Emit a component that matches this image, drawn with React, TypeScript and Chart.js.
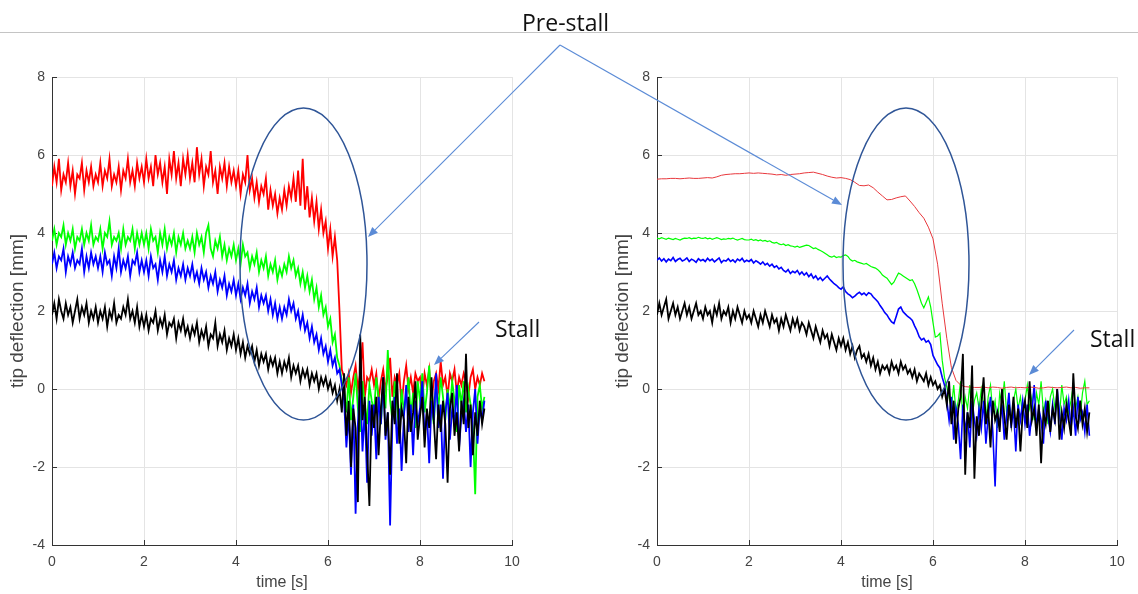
import { useEffect, useRef } from "react";
import { Chart, registerables } from "chart.js";

Chart.register(...registerables);

// ---------------- data ----------------
// sampling intervals of the recorded signals (seconds)
const FINE_STEP = 0.05;
const COARSE_STEP = 0.1;

const X_MIN = 0;
const X_MAX = 10;
const X_STEP = 2;
const Y_MIN = -4;
const Y_MAX = 8;
const Y_STEP = 2;

const X_TITLE = "time [s]";
const Y_TITLE = "tip deflection [mm]";

// Left panel (noisy recordings)
const leftRed = [
  5.2, 5.7, 5.3, 5.9, 5.1, 5.5, 5.3, 5.8, 5.2, 5.6, 5.0, 5.5, 5.4, 5.8, 5.1, 5.6, 5.3, 5.7, 5.2, 5.5,
  5.3, 5.8, 5.2, 5.6, 5.4, 5.9, 5.2, 5.5, 5.3, 5.7, 5.1, 5.6, 5.4, 5.9, 5.3, 5.6, 5.2, 5.8, 5.4, 5.7,
  5.3, 5.9, 5.4, 5.7, 5.2, 6.0, 5.5, 5.8, 5.3, 5.7, 5.0, 5.9, 5.5, 6.1, 5.4, 5.8, 5.2, 5.9, 5.5, 6.0,
  5.4, 5.8, 5.3, 6.2, 5.5, 5.9, 5.2, 5.7, 5.5, 6.1, 5.3, 5.6, 5.0, 5.7, 5.4, 5.8, 5.2, 5.7, 5.3, 5.6,
  5.2, 5.6, 5.0, 5.5, 5.3, 6.0, 5.1, 5.4, 4.9, 5.3, 4.8, 5.2, 5.0, 5.4, 4.6, 5.1, 4.7, 5.0, 4.5, 4.9,
  4.6, 5.1, 4.7, 5.2, 4.9, 5.4, 4.8, 5.6, 4.7, 5.9, 4.6, 5.2, 4.4, 4.9, 4.3, 4.8, 4.1, 4.6, 4.0, 4.3,
  3.6, 4.1, 3.4, 3.9, 3.3, 2.0, 0.5, 0.3, 0.1, 0.4, -0.1, 0.3, 0.6, 0.0, 0.4, 1.2, -0.2, 0.3, 0.2, 0.5,
  0.1, 0.4, -0.3, 0.2, 0.5, 0.0, 0.3, 0.8, -0.2, 0.3, 0.1, 0.4, -0.4, 0.2, 0.6, 0.0, 0.3, -0.1, 0.4, 0.2,
  0.3, -0.2, 0.4, 0.1, 0.5, -0.3, 0.2, 0.4, 0.0, 0.7, 0.1, 0.3, -0.2, 0.4, 0.2, 0.5, -0.1, 0.3, 0.1, 0.4,
  0.2, -0.2, 0.3, 0.5, 0.0, 0.3, 0.1, 0.4, 0.2,
];

const leftGreen = [
  3.8, 4.1, 3.7, 4.0, 3.9, 4.2, 3.7, 4.0, 3.8, 4.1, 3.6, 3.9, 3.8, 4.1, 3.7, 4.0, 3.8, 4.2, 3.7, 3.9,
  3.8, 4.1, 3.6, 4.0, 3.9, 4.3, 3.7, 3.9, 3.8, 4.0, 3.6, 4.1, 3.7, 3.9, 3.8, 4.1, 3.6, 4.0, 3.7, 4.0,
  3.7, 4.0, 3.6, 4.1, 3.8, 3.9, 3.5, 4.0, 3.7, 4.1, 3.6, 3.9, 3.7, 4.0, 3.5, 3.9, 3.7, 4.0, 3.6, 3.8,
  3.6, 3.9, 3.5, 4.0, 3.7, 3.9, 3.5, 4.0, 4.2, 3.6, 3.4, 3.8, 3.6, 3.9, 3.4, 3.7, 3.3, 3.6, 3.4, 3.7,
  3.3, 3.6, 3.2, 3.7, 3.4, 3.5, 3.1, 3.4, 3.2, 3.5, 3.0, 3.3, 3.1, 3.4, 2.9, 3.2, 3.0, 3.3, 2.8, 3.1,
  2.9, 3.2, 3.0, 3.4, 3.1, 3.3, 2.9, 3.1, 2.7, 3.0, 2.6, 2.9, 2.5, 2.8, 2.3, 2.6, 2.1, 2.4, 1.9, 2.1,
  1.6, 1.8, 1.2, 1.4, 0.8, 0.6, 0.2, -0.1, -0.6, 0.3, -0.8, -0.2, 0.4, -0.5, -1.1, 0.2, -0.4, -0.9, 0.1, -0.3,
  -0.6, 0.3, -0.2, -0.9, 0.1, -0.5, 1.0, -0.3, -0.8, 0.2, -0.4, -1.2, 0.0, -0.6, -0.2, 0.3, -0.7, -0.1, -1.0, 0.2,
  -0.3, 0.4, -0.6, -0.1, 0.6, -0.4, -0.9, 0.1, -0.5, 0.3, -0.2, -0.8, 0.0, -0.5, 0.2, -0.3, -1.1, 0.1, -0.4, 0.2,
  -0.6, 0.0, -0.4, -1.0, -2.7, -0.2, 0.1, -0.5, -0.2,
];

const leftBlue = [
  3.2, 3.5, 3.1, 3.4, 3.3, 3.6, 3.0, 3.4, 3.2, 3.5, 3.1, 3.3, 3.2, 3.6, 3.0, 3.4, 3.1, 3.5, 3.2, 3.4,
  3.1, 3.4, 3.0, 3.5, 3.2, 3.3, 2.9, 3.4, 3.1, 3.6, 3.0, 3.3, 3.1, 3.4, 2.9, 3.3, 3.2, 3.5, 3.0, 3.3,
  3.0, 3.3, 2.9, 3.4, 3.1, 3.2, 2.8, 3.3, 3.0, 3.4, 2.9, 3.2, 3.0, 3.3, 2.8, 3.1, 2.9, 3.2, 2.8, 3.1,
  2.9, 3.2, 2.8, 3.0, 2.7, 3.1, 2.8, 3.0, 2.6, 2.9, 2.7, 3.0, 2.5, 2.8, 2.6, 2.9, 2.4, 2.7, 2.5, 2.8,
  2.4, 2.7, 2.3, 2.6, 2.4, 2.7, 2.2, 2.5, 2.3, 2.6, 2.1, 2.4, 2.2, 2.4, 2.0, 2.3, 1.9, 2.2, 1.8, 2.1,
  1.8, 2.1, 1.9, 2.3, 2.0, 2.2, 1.8, 2.0, 1.6, 1.9, 1.5, 1.7, 1.3, 1.6, 1.2, 1.4, 1.0, 1.3, 0.9, 1.1,
  0.7, 1.0, 0.6, 0.8, 0.4, 0.5, 0.1, -0.3, -1.5, -0.6, -2.2, -0.4, -3.2, -0.9, 0.2, -1.6, -0.5, -2.4, -0.3, -1.2,
  -0.4, -1.8, -0.2, -0.9, 0.3, -1.3, -0.6, -3.5, -0.8, -0.2, -1.4, -0.5, -2.1, -0.7, 0.1, -1.1, -0.4, -1.7, -0.3, -0.9,
  -0.5, 0.2, -1.2, -0.6, -1.9, -0.3, -0.8, 0.4, -1.0, -0.4, -2.3, -0.6, -0.1, -1.3, -0.5, -0.9, 0.1, -1.5, -0.7, -0.3,
  -1.1, -0.4, -2.0, -0.6, 0.0, -1.4, -0.5, -0.8, -0.3,
];

const leftBlack = [
  1.9, 2.2, 1.8, 2.3, 2.0, 1.8, 2.2, 1.9, 2.1, 1.7, 2.0, 2.3, 1.8, 2.1, 1.9, 2.2, 1.7, 2.0, 1.8, 2.1,
  1.7, 2.0, 1.8, 2.1, 1.6, 2.0, 1.8, 2.2, 1.7, 1.9, 1.8, 2.1, 1.9, 2.3, 1.8, 2.0, 1.7, 2.1, 1.6, 1.9,
  1.6, 1.9, 1.5, 1.8, 1.7, 2.0, 1.5, 1.8, 1.6, 1.9, 1.4, 1.7, 1.6, 1.8, 1.3, 1.7, 1.5, 1.8, 1.4, 1.6,
  1.3, 1.6, 1.4, 1.7, 1.2, 1.5, 1.3, 1.6, 1.1, 1.4, 1.3, 1.7, 1.1, 1.4, 1.2, 1.5, 1.0, 1.3, 1.1, 1.4,
  1.0, 1.3, 0.9, 1.2, 0.8, 1.1, 0.9, 1.1, 0.7, 1.0, 0.6, 0.9, 0.7, 0.9, 0.5, 0.8, 0.6, 0.8, 0.4, 0.7,
  0.4, 0.7, 0.5, 0.8, 0.3, 0.6, 0.4, 0.6, 0.2, 0.5, 0.3, 0.5, 0.1, 0.4, 0.2, 0.4, 0.0, 0.3, 0.1, 0.3,
  0.0, 0.2, -0.1, 0.1, -0.3, 0.0, -0.6, 0.4, -1.2, -0.3, -2.0, -0.5, -1.0, -2.9, 1.4, -0.8, -0.2, -1.6, -3.0, -0.4,
  -1.0, -0.2, -1.7, -0.5, 0.3, -1.2, -0.6, -2.2, -0.3, -0.9, 0.4, -1.4, -0.5, -0.8, -1.9, -0.2, -1.1, -0.6, 0.2, -1.3,
  -0.7, -0.2, -1.5, -0.5, -1.0, 0.3, -0.8, -1.8, -0.4, -1.1, -0.3, -0.9, -2.4, -0.5, -0.1, -1.2, -0.6, -1.6, -0.3, -0.9,
  0.9, -1.0, -0.4, -1.7, -0.6, -1.2, -0.3, -0.9, -0.5,
];

// Right panel
const rightRed = [
  5.38, 5.39, 5.39, 5.40, 5.40, 5.39, 5.40, 5.41, 5.40, 5.40,
  5.41, 5.42, 5.41, 5.44, 5.48, 5.50, 5.51, 5.52, 5.52, 5.53,
  5.54, 5.53, 5.54, 5.53, 5.52, 5.51, 5.49, 5.50, 5.48, 5.50,
  5.51, 5.52, 5.54, 5.55, 5.56, 5.53, 5.50, 5.46, 5.43, 5.41,
  5.42, 5.40, 5.37, 5.30, 5.22, 5.21, 5.23, 5.16, 5.05, 4.95,
  4.85, 4.86, 4.90, 4.93, 4.95, 4.82, 4.68, 4.52, 4.38, 4.15,
  3.85, 3.20, 2.20, 1.30, 0.55, 0.22, 0.10, 0.06, 0.05, 0.04,
  0.04, 0.05, 0.03, 0.05, 0.04, 0.02, 0.04, 0.05, 0.03, 0.04,
  0.03, 0.05, 0.04, 0.02, 0.03, 0.05, 0.04, 0.03, 0.04, 0.05,
  0.03, 0.04, 0.02, 0.03, 0.03,
];

const rightGreen = [
  3.87, 3.85, 3.88, 3.86, 3.84, 3.87, 3.85, 3.83, 3.86, 3.84, 3.82, 3.85, 3.87, 3.86, 3.88, 3.85, 3.87, 3.86, 3.89, 3.87,
  3.86, 3.88, 3.85, 3.87, 3.84, 3.86, 3.88, 3.86, 3.83, 3.85, 3.84, 3.86, 3.85, 3.87, 3.84, 3.82, 3.84, 3.86, 3.83, 3.82,
  3.82, 3.84, 3.81, 3.83, 3.80, 3.82, 3.79, 3.81, 3.78, 3.80, 3.76, 3.74, 3.76, 3.72, 3.70, 3.72, 3.68, 3.70, 3.67, 3.66,
  3.64, 3.66, 3.63, 3.65, 3.67, 3.69, 3.68, 3.64, 3.60, 3.62, 3.58, 3.55, 3.52, 3.48, 3.44, 3.40, 3.38, 3.41, 3.37, 3.39,
  3.38, 3.42, 3.44, 3.40, 3.32, 3.28, 3.30, 3.26, 3.24, 3.22, 3.20, 3.22, 3.18, 3.14, 3.12, 3.10, 3.06, 3.00, 2.92, 2.88,
  2.84, 2.76, 2.68, 2.74, 2.86, 2.97, 2.94, 2.90, 2.86, 2.82, 2.78, 2.80, 2.70, 2.55, 2.38, 2.20, 2.08, 2.22, 2.36, 2.10,
  1.70, 1.33, 1.36, 1.43, 0.74, 0.30, 0.05, -0.2, -0.5, 0.1, -0.6, -0.3, 0.2, -0.8, -0.2, -0.5, 0.1, -0.7, -0.3, -0.1,
  -0.5, 0.0, -0.4, -0.8, -0.2, 0.1, -0.6, -0.3, -1.0, -0.1, -0.4, 0.2, -0.6, -0.2, -0.9, -0.3, 0.0, -0.5, -0.2, -0.7,
  -0.3, 0.1, -0.5, -0.2, -0.8, -0.1, -0.4, 0.2, -0.6, -0.3, -0.9, -0.2, 0.0, -0.5, -0.3, -0.7, 0.1, -0.4, -0.2, -0.6,
  -0.3, 0.1, -0.5, -0.2, -0.7, -0.1, 0.2, -0.4, -0.3,
];

const rightBlue = [
  3.30, 3.36, 3.28, 3.34, 3.26, 3.33, 3.29, 3.37, 3.27, 3.32, 3.35, 3.28, 3.31, 3.36, 3.27, 3.33, 3.30, 3.25, 3.34, 3.29,
  3.32, 3.27, 3.35, 3.29, 3.33, 3.26, 3.31, 3.36, 3.24, 3.30, 3.28, 3.34, 3.27, 3.31, 3.25, 3.33, 3.29, 3.35, 3.26, 3.30,
  3.27, 3.32, 3.23, 3.29, 3.25, 3.20, 3.26, 3.18, 3.22, 3.15, 3.20, 3.12, 3.16, 3.08, 3.12, 3.04, 3.00, 3.06, 2.96, 3.02,
  2.98, 3.04, 2.94, 3.00, 2.92, 2.98, 2.88, 2.95, 2.84, 2.90, 2.80, 2.86, 2.78, 2.84, 2.90, 2.82, 2.76, 2.70, 2.66, 2.60,
  2.56, 2.62, 2.50, 2.44, 2.40, 2.34, 2.38, 2.44, 2.48, 2.42, 2.46, 2.40, 2.47, 2.44, 2.36, 2.30, 2.24, 2.14, 2.06, 1.96,
  1.90, 1.80, 1.72, 1.68, 1.86, 2.05, 2.10, 1.98, 1.92, 1.86, 1.82, 1.76, 1.62, 1.50, 1.34, 1.26, 1.30, 1.20, 1.24, 1.14,
  0.86, 0.74, 0.62, 0.54, 0.30, 0.10, -0.3, -0.8, -0.2, -1.3, -0.5, -0.9, -1.8, -0.4, -1.1, -0.6, -1.5, -0.3, -0.8, -1.2,
  -0.5, -1.0, -0.3, -1.4, -0.7, -0.2, -1.1, -2.5, -0.6, -0.9, -0.4, -1.3, -0.7, -0.1, -1.0, -0.5, -1.6, -0.4, -0.8, -0.3,
  -0.9, -0.4, -1.2, -0.6, 0.1, -1.0, -0.5, -0.8, -1.4, -0.3, -0.7, -1.1, -0.4, -0.9, 0.0, -0.6, -1.3, -0.5, -0.8, -0.3,
  -1.0, -0.5, -1.2, -0.2, -0.8, -0.6, -1.1, -0.4, -1.2,
];

const rightBlack = [
  1.9, 2.2, 1.9, 2.1, 2.3, 1.8, 2.0, 2.2, 1.9, 2.1, 1.8, 2.0, 2.2, 1.9, 2.1, 1.8, 2.0, 2.2, 1.9, 2.0,
  1.8, 2.1, 1.9, 2.0, 1.7, 2.1, 1.9, 2.2, 1.8, 2.0, 1.9, 2.1, 1.7, 2.0, 1.8, 2.1, 1.9, 1.7, 2.0, 1.8,
  1.9, 1.7, 2.0, 1.8, 1.6, 1.9, 1.7, 2.0, 1.8, 1.6, 1.9, 1.7, 1.8, 1.5, 1.8, 1.6, 1.9, 1.7, 1.5, 1.8,
  1.6, 1.8, 1.5, 1.7, 1.6, 1.4, 1.7, 1.5, 1.3, 1.6, 1.4, 1.2, 1.5, 1.3, 1.4, 1.1, 1.4, 1.2, 1.0, 1.3,
  1.1, 1.3, 1.0, 1.2, 0.9, 1.1, 0.8, 1.0, 1.1, 0.8, 0.9, 0.7, 0.9, 0.6, 0.8, 0.5, 0.7, 0.4, 0.6, 0.5,
  0.6, 0.4, 0.7, 0.5, 0.6, 0.4, 0.7, 0.5, 0.6, 0.4, 0.5, 0.3, 0.5, 0.2, 0.4, 0.3, 0.2, 0.4, 0.1, 0.3,
  0.1, 0.2, 0.0, 0.1, -0.2, 0.0, -0.4, 0.2, -0.9, -0.3, -1.4, -0.5, -0.2, 0.9, -2.2, -0.6, -1.0, 0.6, -2.3, -0.7,
  -1.2, -0.4, 0.3, -0.9, -0.5, -1.5, -0.3, -0.8, -0.6, -1.1, 0.0, -0.7, -1.3, -0.4, -0.9, -0.2, -1.0, -0.5, -1.6, -0.6,
  -0.3, -1.0, 0.2, -0.8, -0.5, -1.2, -0.4, -1.9, -0.6, -0.9, -0.3, -1.1, -0.5, -0.8, 0.0, -1.3, -0.6, -1.0, -0.4, -0.8,
  -1.2, 0.4, -0.7, -1.0, -0.3, -0.9, -0.5, -1.1, -0.6,
];

// ---------------- helpers ----------------
const toPoints = (values: number[], step: number) =>
  values.map((v, i) => ({ x: Math.round(i * step * 100) / 100, y: v }));

const FONT = "'Liberation Sans', Arial, Helvetica, sans-serif";
const AXIS_COLOR = "#333333";
const GRID_COLOR = "#e4e4e4";
const TICK_COLOR = "#444444";

const innerTicks = {
  id: "innerTicks",
  beforeDatasetsDraw(chart: any) {
    const { ctx, chartArea: a, scales } = chart;
    const x = scales.x;
    const y = scales.y;
    ctx.save();
    ctx.strokeStyle = AXIS_COLOR;
    ctx.lineWidth = 1;
    ctx.beginPath();
    x.ticks.forEach((t: any) => {
      const px = Math.round(x.getPixelForValue(t.value)) + 0.5;
      ctx.moveTo(px, a.bottom);
      ctx.lineTo(px, a.bottom - 5);
    });
    y.ticks.forEach((t: any) => {
      const py = Math.round(y.getPixelForValue(t.value)) + 0.5;
      ctx.moveTo(a.left, py);
      ctx.lineTo(a.left + 5, py);
    });
    ctx.stroke();
    ctx.restore();
  },
};

type Series = { values: number[]; step: number; color: string; order: number; width: number };

function Panel({ series, left }: { series: Series[]; left: number }) {
  const ref = useRef<HTMLCanvasElement | null>(null);
  useEffect(() => {
    if (!ref.current) return;
    const chart = new Chart(ref.current, {
      type: "line",
      data: {
        datasets: series.map((s) => ({
          data: toPoints(s.values, s.step),
          borderColor: s.color,
          borderWidth: s.width,
          pointRadius: 0,
          tension: 0,
          fill: false,
          order: s.order,
        })),
      },
      options: {
        animation: false,
        responsive: true,
        maintainAspectRatio: false,
        events: [],
        layout: { padding: { top: 77, right: 21, bottom: 0, left: 0 } },
        plugins: { legend: { display: false }, tooltip: { enabled: false } },
        scales: {
          x: {
            type: "linear",
            min: X_MIN,
            max: X_MAX,
            afterFit: (s: any) => {
              s.height = 49;
            },
            ticks: {
              stepSize: X_STEP,
              padding: 9,
              color: TICK_COLOR,
              font: { family: FONT, size: 14 },
              maxRotation: 0,
            },
            grid: { color: GRID_COLOR, drawTicks: false, lineWidth: 1 },
            border: { color: AXIS_COLOR, width: 1 },
            title: {
              display: true,
              text: X_TITLE,
              color: TICK_COLOR,
              font: { family: FONT, size: 16 },
              padding: { top: 0, bottom: 2 },
            },
          },
          y: {
            type: "linear",
            min: Y_MIN,
            max: Y_MAX,
            afterFit: (s: any) => {
              s.width = 52;
            },
            ticks: {
              stepSize: Y_STEP,
              padding: 7,
              color: TICK_COLOR,
              font: { family: FONT, size: 14 },
            },
            grid: { color: GRID_COLOR, drawTicks: false, lineWidth: 1 },
            border: { color: AXIS_COLOR, width: 1 },
            title: {
              display: true,
              text: Y_TITLE,
              color: TICK_COLOR,
              font: { family: FONT, size: 19 },
              padding: { top: 6, bottom: 0 },
            },
          },
        },
      },
      plugins: [innerTicks],
    });
    return () => chart.destroy();
  }, [series]);
  return (
    <div style={{ position: "absolute", left, top: 0, width: 533, height: 594 }}>
      <canvas ref={ref} />
    </div>
  );
}

const LEFT_SERIES: Series[] = [
  { values: leftRed, step: FINE_STEP, color: "#ff0000", order: 3, width: 1.8 },
  { values: leftGreen, step: FINE_STEP, color: "#00ff00", order: 2, width: 1.8 },
  { values: leftBlue, step: FINE_STEP, color: "#0000ff", order: 1, width: 1.8 },
  { values: leftBlack, step: FINE_STEP, color: "#000000", order: 0, width: 1.8 },
];

const RIGHT_SERIES: Series[] = [
  { values: rightRed, step: COARSE_STEP, color: "#e8383d", order: 0.5, width: 1 },
  { values: rightGreen, step: FINE_STEP, color: "#00ff00", order: 2, width: 1.2 },
  { values: rightBlue, step: FINE_STEP, color: "#0000ff", order: 1, width: 1.6 },
  { values: rightBlack, step: FINE_STEP, color: "#000000", order: 0, width: 1.8 },
];

// ---------------- annotations (page pixels) ----------------
const ARROW_COLOR = "#5b8bd6";
const ELLIPSE_COLOR = "#2f5597";

function Arrow({ x1, y1, x2, y2 }: { x1: number; y1: number; x2: number; y2: number }) {
  const ang = Math.atan2(y2 - y1, x2 - x1);
  const len = 10;
  const hw = 4;
  const bx = x2 - len * Math.cos(ang);
  const by = y2 - len * Math.sin(ang);
  const p1 = `${bx + hw * Math.sin(ang)},${by - hw * Math.cos(ang)}`;
  const p2 = `${bx - hw * Math.sin(ang)},${by + hw * Math.cos(ang)}`;
  return (
    <g>
      <line x1={x1} y1={y1} x2={bx} y2={by} stroke={ARROW_COLOR} strokeWidth={1.1} />
      <polygon points={`${x2},${y2} ${p1} ${p2}`} fill={ARROW_COLOR} />
    </g>
  );
}

export default function App() {
  return (
    <div
      style={{
        position: "fixed",
        left: 0,
        top: 0,
        width: 1138,
        height: 594,
        background: "#ffffff",
        overflow: "hidden",
      }}
    >
      <Panel series={LEFT_SERIES} left={0} />
      <Panel series={RIGHT_SERIES} left={605} />
      <svg
        width={1138}
        height={594}
        style={{ position: "absolute", left: 0, top: 0, pointerEvents: "none" }}
      >
        <line x1={0} y1={32.5} x2={1138} y2={32.5} stroke="#c4c4c4" strokeWidth={1} />
        <text x={522} y={31} fontFamily="'Open Sans', sans-serif" fontSize={23} fill="#111">
          Pre-stall
        </text>
        <Arrow x1={560} y1={45} x2={368} y2={237} />
        <Arrow x1={560} y1={45} x2={842} y2={205} />
        <ellipse cx={303.5} cy={264} rx={63.5} ry={156} fill="none" stroke={ELLIPSE_COLOR} strokeWidth={1.5} />
        <ellipse cx={906} cy={264} rx={63} ry={156} fill="none" stroke={ELLIPSE_COLOR} strokeWidth={1.5} />
        <text x={495} y={337} fontFamily="'Open Sans', sans-serif" fontSize={23} fill="#111">
          Stall
        </text>
        <Arrow x1={479} y1={322} x2={434} y2={365} />
        <text x={1090} y={347} fontFamily="'Open Sans', sans-serif" fontSize={23} fill="#111">
          Stall
        </text>
        <Arrow x1={1074} y1={330} x2={1029} y2={375} />
      </svg>
    </div>
  );
}
